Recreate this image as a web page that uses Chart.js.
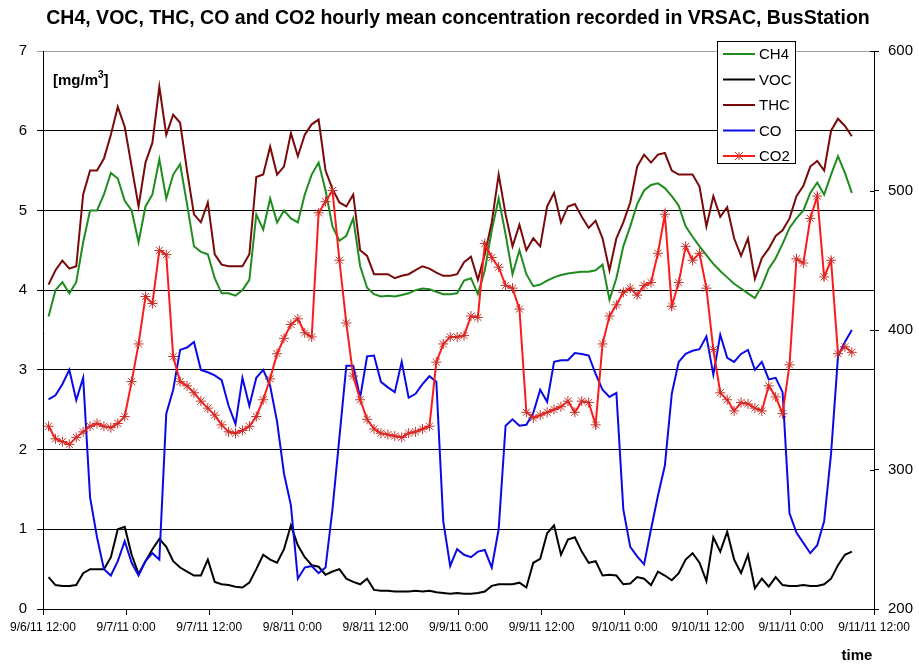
<!DOCTYPE html>
<html>
<head>
<meta charset="utf-8">
<script src="https://cdn.jsdelivr.net/npm/chart.js@4.4.1/dist/chart.umd.min.js"></script>
<style>
  html, body { margin: 0; padding: 0; background: #ffffff; }
  #wrap { width: 919px; height: 665px; }
</style>
</head>
<body>
<div id="wrap"><canvas id="c" width="919" height="665"></canvas></div>
<script>
// Hourly means, VRSAC bus station, 9/6/11 12:00 onwards (one value per hour)
const ch4 = [
  3.67, 4.00, 4.10, 3.96, 4.10, 4.60, 5.00, 5.00, 5.20, 5.47,
  5.40, 5.12, 5.00, 4.60, 5.05, 5.20, 5.64, 5.15, 5.45, 5.58,
  5.08, 4.55, 4.48, 4.45, 4.15, 3.96, 3.96, 3.93, 4.00, 4.13,
  4.95, 4.76, 5.15, 4.85, 5.00, 4.90, 4.85, 5.20, 5.45, 5.60,
  5.25, 4.80, 4.62, 4.68, 4.90, 4.30, 4.03, 3.95, 3.92, 3.93,
  3.92, 3.94, 3.96, 4.00, 4.02, 4.01, 3.98, 3.95, 3.95, 3.96,
  4.12, 4.15, 3.95, 4.25, 4.75, 5.15, 4.70, 4.20, 4.50, 4.20,
  4.05, 4.07, 4.12, 4.16, 4.19, 4.21, 4.22, 4.23, 4.23, 4.25,
  4.32, 3.88, 4.15, 4.55, 4.80, 5.08, 5.25, 5.32, 5.34, 5.28,
  5.18, 5.06, 4.80, 4.67, 4.55, 4.44, 4.33, 4.24, 4.16, 4.08,
  4.02, 3.96, 3.90, 4.05, 4.27, 4.40, 4.58, 4.78, 4.90, 5.00,
  5.22, 5.35, 5.20, 5.45, 5.68, 5.47, 5.22
];
const voc = [
  0.40, 0.30, 0.29, 0.29, 0.30, 0.45, 0.50, 0.50, 0.50, 0.65,
  1.00, 1.03, 0.68, 0.44, 0.60, 0.75, 0.88, 0.78, 0.60, 0.52,
  0.47, 0.42, 0.42, 0.62, 0.34, 0.31, 0.30, 0.28, 0.27, 0.33,
  0.50, 0.68, 0.62, 0.58, 0.75, 1.05, 0.80, 0.65, 0.55, 0.53,
  0.43, 0.47, 0.50, 0.38, 0.34, 0.31, 0.38, 0.24, 0.23, 0.23,
  0.22, 0.22, 0.22, 0.23, 0.22, 0.23, 0.21, 0.20, 0.19, 0.20,
  0.19, 0.19, 0.20, 0.22, 0.29, 0.31, 0.31, 0.31, 0.33, 0.27,
  0.58, 0.63, 0.95, 1.05, 0.68, 0.87, 0.90, 0.72, 0.58, 0.60,
  0.42, 0.43, 0.42, 0.31, 0.32, 0.40, 0.38, 0.30, 0.47, 0.42,
  0.36, 0.45, 0.62, 0.70, 0.58, 0.35, 0.90, 0.72, 0.97, 0.62,
  0.45, 0.68, 0.26, 0.38, 0.28, 0.40, 0.30, 0.29, 0.29, 0.30,
  0.29, 0.29, 0.31, 0.38, 0.55, 0.68, 0.72
];
const thc = [
  4.07, 4.25, 4.37, 4.27, 4.30, 5.20, 5.50, 5.50, 5.65, 5.95,
  6.30, 6.05, 5.55, 5.05, 5.60, 5.85, 6.55, 5.95, 6.20, 6.10,
  5.50, 4.95, 4.85, 5.10, 4.45, 4.32, 4.30, 4.30, 4.30, 4.45,
  5.42, 5.45, 5.80, 5.45, 5.55, 5.97, 5.68, 5.95, 6.08, 6.14,
  5.50, 5.27, 5.10, 5.05, 5.20, 4.50, 4.43, 4.20, 4.20, 4.20,
  4.15, 4.18, 4.20, 4.25, 4.30, 4.27, 4.22, 4.18, 4.18, 4.20,
  4.35, 4.42, 4.13, 4.45, 4.85, 5.45, 4.95, 4.55, 4.82, 4.50,
  4.65, 4.55, 5.05, 5.22, 4.85, 5.05, 5.08, 4.92, 4.78, 4.87,
  4.65, 4.25, 4.65, 4.85, 5.10, 5.55, 5.70, 5.60, 5.70, 5.72,
  5.50, 5.45, 5.45, 5.45, 5.30, 4.80, 5.18, 4.92, 5.04, 4.65,
  4.43, 4.65, 4.14, 4.40, 4.52, 4.68, 4.75, 4.90, 5.18, 5.31,
  5.55, 5.62, 5.50, 6.00, 6.15, 6.06, 5.93
];
const co = [
  2.63, 2.68, 2.82, 3.00, 2.62, 2.90, 1.40, 0.90, 0.50, 0.42,
  0.60, 0.85, 0.58, 0.42, 0.60, 0.70, 0.62, 2.45, 2.75, 3.25,
  3.28, 3.35, 3.00, 2.97, 2.93, 2.87, 2.55, 2.32, 2.90, 2.55,
  2.90, 3.00, 2.80, 2.35, 1.70, 1.30, 0.38, 0.52, 0.54, 0.45,
  0.52, 1.25, 2.15, 3.05, 3.05, 2.65, 3.17, 3.18, 2.85, 2.78,
  2.72, 3.10, 2.65, 2.70, 2.82, 2.92, 2.85, 1.10, 0.54, 0.75,
  0.68, 0.65, 0.72, 0.74, 0.52, 1.00, 2.30, 2.38, 2.30, 2.31,
  2.46, 2.75, 2.60, 3.10, 3.12, 3.12, 3.21, 3.20, 3.18, 2.95,
  2.75, 2.66, 2.71, 1.25, 0.78, 0.66, 0.56, 1.00, 1.42, 1.80,
  2.70, 3.10, 3.20, 3.24, 3.26, 3.42, 2.94, 3.44, 3.15, 3.10,
  3.20, 3.25, 3.00, 3.10, 2.88, 2.90, 2.72, 1.20, 0.96, 0.83,
  0.70, 0.80, 1.10, 1.95, 3.17, 3.35, 3.50
];
const co2 = [
  331, 322, 320, 318, 323, 327, 331, 333, 331, 330,
  333, 338, 363, 390, 424, 419, 457, 454, 381, 363,
  360, 355, 349, 344, 339, 332, 327, 326, 328, 331,
  338, 350, 365, 383, 394, 404, 408, 398, 395, 484,
  492, 500, 450, 405, 367, 350, 336, 329, 326, 325,
  324, 323, 326, 327, 329, 331, 377, 390, 395, 395,
  396, 410, 409, 462, 452, 445, 432, 430, 415, 341,
  337, 339, 341, 343, 345, 349, 341, 349, 348, 332,
  390, 410, 418, 427, 430, 425, 432, 434, 455, 483,
  417, 434, 460, 450, 455, 430, 386, 355, 350, 342,
  348, 347, 344, 342, 360, 352, 340, 375, 451, 448,
  480, 496, 438, 450, 383, 388, 384
];

// Time axis: hours after 9/6/11 12:00, labelled every 12 hours
const tickHours  = [0, 12, 24, 36, 48, 60, 72, 84, 96, 108, 120];
const tickLabels = ['9/6/11 12:00', '9/7/11 0:00', '9/7/11 12:00', '9/8/11 0:00', '9/8/11 12:00',
                    '9/9/11 0:00', '9/9/11 12:00', '9/10/11 0:00', '9/10/11 12:00', '9/11/11 0:00', '9/11/11 12:00'];
const firstSampleHour = 0.8;

const titleText = 'CH4, VOC, THC, CO and CO2 hourly mean concentration recorded in VRSAC, BusStation';

const toPoints = arr => arr.map((v, i) => ({ x: firstSampleHour + i, y: v }));

const FONT = '"Liberation Sans", Arial, sans-serif';

// Title, unit label, axis name, inner tick marks and boxed legend
const decorations = {
  id: 'decorations',
  afterDraw(chart) {
    const ctx = chart.ctx;
    const area = chart.chartArea;
    ctx.save();

    // right axis ticks cross the axis line
    const y2 = chart.scales.y2;
    ctx.strokeStyle = '#000';
    ctx.lineWidth = 1;
    y2.ticks.forEach(t => {
      const py = Math.round(y2.getPixelForValue(t.value)) + 0.5;
      ctx.beginPath();
      ctx.moveTo(area.right - 4, py);
      ctx.lineTo(area.right, py);
      ctx.stroke();
    });

    ctx.fillStyle = '#000';
    ctx.textBaseline = 'alphabetic';

    ctx.font = 'bold 19.5px ' + FONT;
    ctx.textAlign = 'center';
    ctx.fillText(titleText, 458, 24);

    ctx.textAlign = 'left';
    ctx.font = 'bold 15px ' + FONT;
    const x0 = 53, base = 85;
    ctx.fillText('[mg/m', x0, base);
    const w = ctx.measureText('[mg/m').width;
    ctx.font = 'bold 10px ' + FONT;
    ctx.fillText('3', x0 + w, base - 7);
    const w3 = ctx.measureText('3').width;
    ctx.font = 'bold 15px ' + FONT;
    ctx.fillText(']', x0 + w + w3, base);

    ctx.textAlign = 'center';
    ctx.fillText('time', 857, 660);

    // legend box
    const lx = 717.5, ly = 41.5, lw = 78, lh = 122;
    ctx.fillStyle = '#fff';
    ctx.fillRect(lx, ly, lw, lh);
    ctx.strokeStyle = '#000';
    ctx.lineWidth = 1;
    ctx.strokeRect(lx, ly, lw, lh);
    ctx.font = '15px ' + FONT;
    ctx.textAlign = 'left';
    ctx.textBaseline = 'middle';
    chart.data.datasets.forEach((ds, i) => {
      const y = 54 + i * 25.5;
      ctx.strokeStyle = ds.borderColor;
      ctx.lineWidth = 2;
      ctx.beginPath();
      ctx.moveTo(723, y);
      ctx.lineTo(755, y);
      ctx.stroke();
      if (ds.pointRadius > 0) {
        ctx.strokeStyle = ds.pointBorderColor;
        ctx.lineWidth = 1;
        const r = 4;
        ctx.beginPath();
        ctx.moveTo(739 - r, y - r); ctx.lineTo(739 + r, y + r);
        ctx.moveTo(739 - r, y + r); ctx.lineTo(739 + r, y - r);
        ctx.moveTo(739, y - r); ctx.lineTo(739, y + r);
        ctx.stroke();
      }
      ctx.fillStyle = '#000';
      ctx.fillText(ds.label, 759, y + 1);
    });
    ctx.restore();
  }
};

const lineDs = (label, data, color, axis, order) => ({
  label, data: toPoints(data), yAxisID: axis, order,
  borderColor: color, backgroundColor: color, borderWidth: 2,
  pointRadius: 0, tension: 0, fill: false
});

const co2Ds = lineDs('CO2', co2, '#ff1a1a', 'y2', 1);
co2Ds.pointRadius = 5;
co2Ds.pointStyle = 'star';
co2Ds.pointBorderColor = '#c8302a';
co2Ds.pointBorderWidth = 1;

new Chart(document.getElementById('c'), {
  type: 'line',
  data: {
    datasets: [
      lineDs('CH4', ch4, '#1e8c1e', 'y', 5),
      lineDs('VOC', voc, '#000000', 'y', 4),
      lineDs('THC', thc, '#7a0a0a', 'y', 3),
      lineDs('CO', co, '#0a0ae6', 'y', 2),
      co2Ds
    ]
  },
  options: {
    responsive: false,
    animation: false,
    events: [],
    layout: { padding: { top: 51, left: 0, right: 0, bottom: 0 } },
    plugins: { legend: { display: false }, title: { display: false }, tooltip: { enabled: false } },
    scales: {
      x: {
        type: 'linear', min: 0, max: 120,
        afterBuildTicks: axis => { axis.ticks = tickHours.map(v => ({ value: v })); },
        afterFit: axis => { axis.height = 56; },
        ticks: {
          autoSkip: false, maxRotation: 0, minRotation: 0, padding: 5,
          color: '#000', font: { family: FONT, size: 12 },
          callback: (v) => tickLabels[tickHours.indexOf(v)]
        },
        grid: { drawOnChartArea: false, color: '#000', tickLength: 6 },
        border: { color: '#000', width: 1 }
      },
      y: {
        position: 'left', min: 0, max: 7,
        afterFit: axis => { axis.width = 43; },
        ticks: { stepSize: 1, padding: 10, color: '#000', font: { family: FONT, size: 15 } },
        grid: {
          color: c => (c.tick && c.tick.value === 7) ? '#a0a0a0' : '#000',
          lineWidth: 1, tickLength: 6
        },
        border: { color: '#000', width: 1 }
      },
      y2: {
        position: 'right', min: 200, max: 600,
        afterFit: axis => { axis.width = 45; },
        ticks: { stepSize: 100, padding: 9, color: '#000', font: { family: FONT, size: 15 } },
        grid: { drawOnChartArea: false, color: '#000', tickLength: 5 },
        border: { color: '#000', width: 1 }
      }
    }
  },
  plugins: [decorations]
});
</script>
</body>
</html>
